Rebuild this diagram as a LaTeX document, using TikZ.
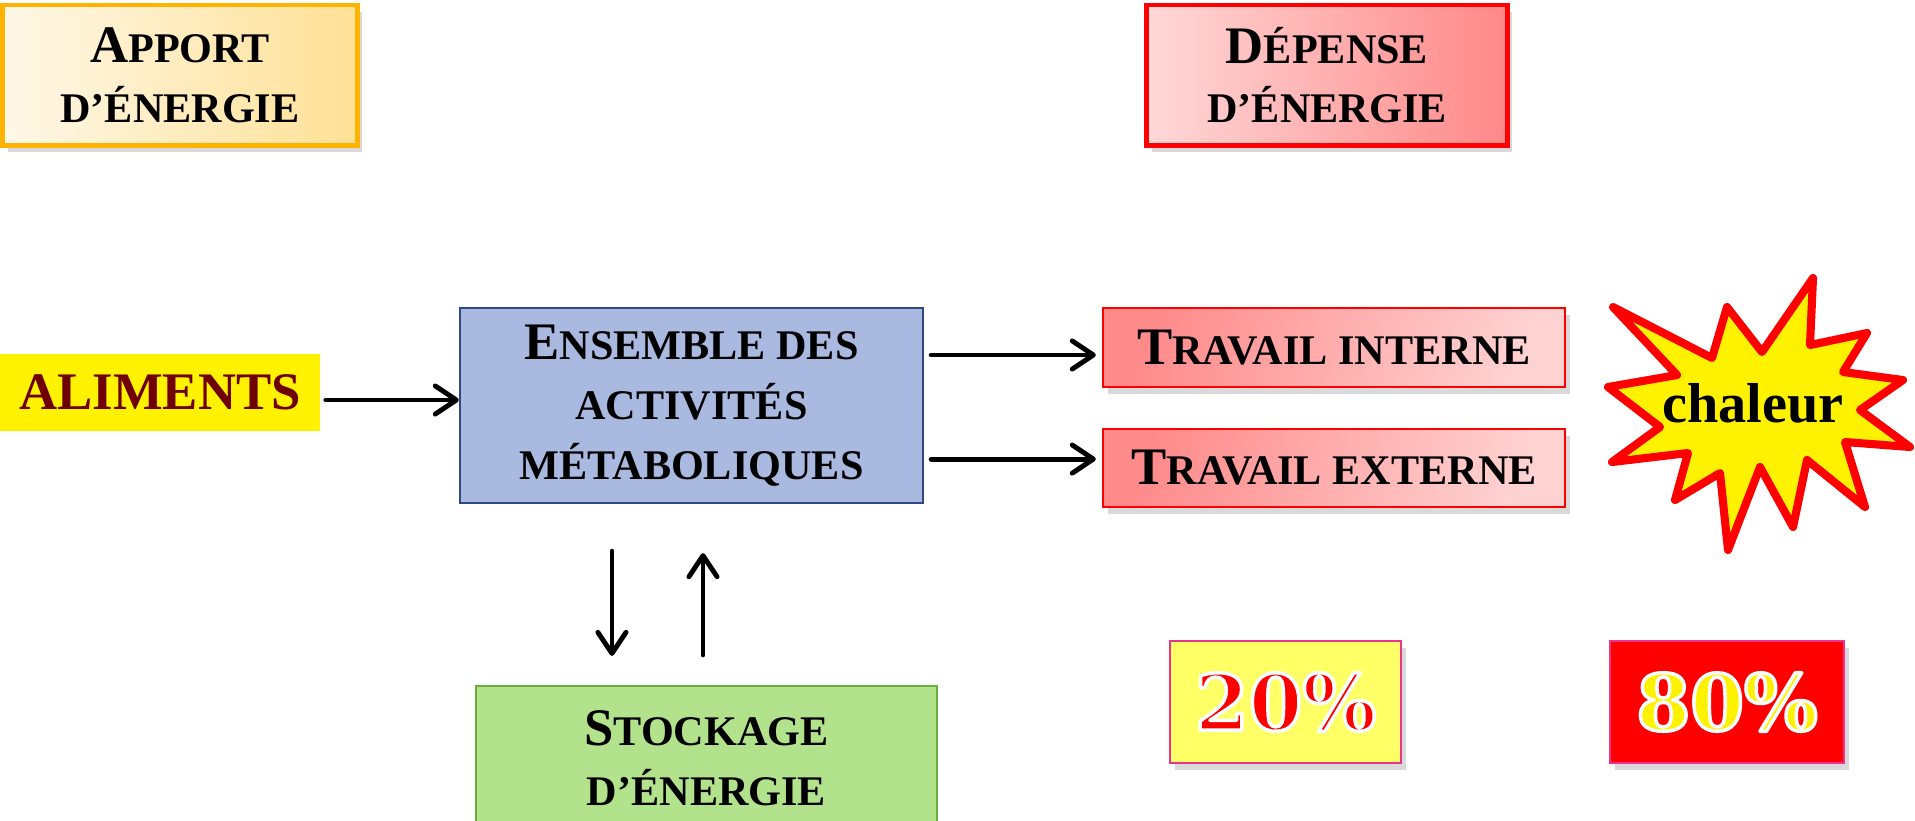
\documentclass[tikz,border=0pt]{standalone}
\usepackage{fontspec}
\setmainfont{Liberation Serif}
\newfontfamily\pctfont{DejaVu Serif}
\usetikzlibrary{arrows.meta,shadows,calc}
\definecolor{apL}{HTML}{FFF8E8}
\definecolor{apR}{HTML}{FFE196}
\definecolor{apD}{HTML}{FFB300}
\definecolor{deL}{HTML}{FFD8D8}
\definecolor{deR}{HTML}{FF8888}
\definecolor{enF}{HTML}{A9B9DF}
\definecolor{enD}{HTML}{2E4A86}
\definecolor{trL}{HTML}{FF8A8A}
\definecolor{trR}{HTML}{FFD2D2}
\definecolor{stF}{HTML}{B2E28C}
\definecolor{stD}{HTML}{6AAE3C}
\definecolor{pY}{HTML}{FFFF66}
\definecolor{pB}{HTML}{E8348C}
\definecolor{alT}{HTML}{6E0000}
\newcommand\BigL[1]{{\fontsize{15pt}{17pt}\selectfont #1}}
% outlined text: fill colour #1, white stroke
\newcommand\OutTxt[2]{{\color{#1}\special{pdf:literal direct 2 Tr 1.0 w 1 1 1 RG 1 j}#2\special{pdf:literal direct 0 Tr}}}
\begin{document}
\begin{tikzpicture}[x=0.01cm,y=-0.01cm,
  box/.style={rectangle, inner sep=0pt, align=center, text=black,
    font=\bfseries\fontsize{12pt}{17pt}\selectfont},
  shad/.style={drop shadow={shadow xshift=0.05cm, shadow yshift=-0.07cm, opacity=0.3}},
  arr/.style={line width=1.4pt, line cap=round,
    -{Straight Barb[length=6pt,width=8pt,line cap=round,round]}},
  pct/.style={rectangle, inner sep=0pt, draw=pB, line width=0.6pt, shad,
    font=\fontsize{22pt}{24pt}\pctfont\bfseries\selectfont}
]
\useasboundingbox (0,0) rectangle (1915,820);

% top boxes
\node[box, shad, draw=apD, line width=1.4pt, left color=apL, right color=apR,
  minimum width=3.54cm, minimum height=1.40cm] (app) at (180,75)
  {\BigL{A}PPORT\\D’ÉNERGIE};
\node[box, shad, draw=red, line width=1.4pt, left color=deL, right color=deR,
  minimum width=3.60cm, minimum height=1.40cm] (dep) at (1327,75)
  {\BigL{D}ÉPENSE\\D’ÉNERGIE};

% aliments
\node[rectangle, fill=yellow, inner sep=0pt, minimum width=3.20cm, minimum height=0.77cm,
  text=alT, font=\bfseries\fontsize{15pt}{17pt}\selectfont] (ali) at (160,392.5) {ALIMENTS};

% ensemble
\node[box, fill=enF, draw=enD, line width=0.6pt, minimum width=4.63cm, minimum height=1.95cm]
  (ens) at (691.5,405.5) {\BigL{E}NSEMBLE DES\\ACTIVITÉS\\MÉTABOLIQUES};

% travail
\node[box, shad, draw=red, line width=0.6pt, left color=trL, right color=trR, shading angle=70,
  minimum width=4.62cm, minimum height=0.79cm] (tri) at (1334,347.5) {\BigL{T}RAVAIL INTERNE};
\node[box, shad, draw=red, line width=0.6pt, left color=trL, right color=trR, shading angle=70,
  minimum width=4.62cm, minimum height=0.78cm] (tre) at (1334,468) {\BigL{T}RAVAIL EXTERNE};

% stockage
\node[box, fill=stF, draw=stD, line width=0.6pt, minimum width=4.61cm, minimum height=1.44cm]
  (sto) at (706.5,758) {\BigL{S}TOCKAGE\\D’ÉNERGIE};

% star
\draw[red, fill=yellow, line width=2.3pt, line join=round]
  (1613,307) -- (1712,358) -- (1727,307) -- (1762,352) -- (1813,278) -- (1810,345)
  -- (1867,333) -- (1843,372) -- (1903,380) -- (1860,410) -- (1910,447) -- (1845,442)
  -- (1865,507) -- (1807,460) -- (1793,527) -- (1760,467) -- (1728,550) -- (1720,473)
  -- (1675,500) -- (1688,453) -- (1612,462) -- (1660,427) -- (1608,387) -- (1677,375)
  -- cycle;
\node[font=\bfseries\fontsize{16pt}{18pt}\selectfont] (cha) at (1753,403) {chaleur};

% percentages
\node[pct, fill=pY, minimum width=2.31cm, minimum height=1.22cm] (p20) at (1285.5,702)
  {\OutTxt{red}{20\%}};
\node[pct, fill=red, minimum width=2.34cm, minimum height=1.22cm] (p80) at (1727,702)
  {\OutTxt{yellow}{80\%}};

% connectors
\coordinate (a1) at ([xshift=0.05cm,yshift=-0.075cm]ali.east);
\coordinate (a2) at (a1 -| ens.west);
\draw[arr] (a1) -- (a2);

\coordinate (t1) at ([xshift=0.07cm,yshift=0.505cm]ens.east);
\coordinate (t1e) at (t1 -| tri.west);
\draw[arr] (t1) -- ([xshift=-0.06cm]t1e);

\coordinate (t2) at ([xshift=0.07cm,yshift=-0.535cm]ens.east);
\coordinate (t2e) at (t2 -| tre.west);
\draw[arr] (t2) -- ([xshift=-0.06cm]t2e);

\coordinate (d1) at ([xshift=-0.795cm,yshift=-0.47cm]ens.south);
\coordinate (d2b) at (d1 |- sto.north);
\draw[arr] (d1) -- ([yshift=0.29cm]d2b);

\coordinate (u1) at ([xshift=0.115cm,yshift=-0.49cm]ens.south);
\coordinate (u2b) at (u1 |- sto.north);
\draw[arr] ([yshift=0.30cm]u2b) -- (u1);
\end{tikzpicture}
\end{document}
